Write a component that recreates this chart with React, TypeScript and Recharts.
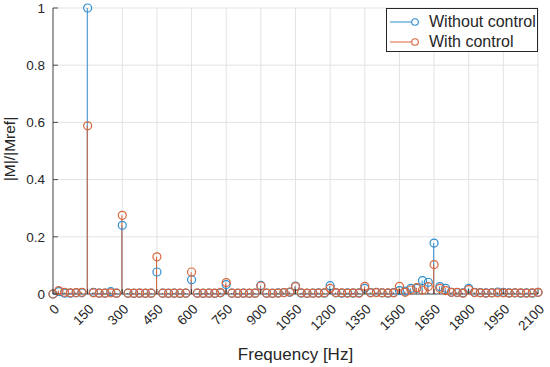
import React from 'react';
import { ComposedChart, Bar, Line, XAxis, YAxis, CartesianGrid, Legend } from 'recharts';

const BLUE = '#2E8ED0';
const ORANGE = '#D9653A';
const AXIS = '#262626';
const GRID = '#E3E3E3';

const frequencies = [
  0, 25, 50, 75, 100, 125, 150, 175, 200, 225, 250, 275, 300, 325, 350, 375, 400, 425,
  450, 475, 500, 525, 550, 575, 600, 625, 650, 675, 700, 725, 750, 775, 800, 825, 850, 875,
  900, 925, 950, 975, 1000, 1025, 1050, 1075, 1100, 1125, 1150, 1175, 1200, 1225, 1250, 1275,
  1300, 1325, 1350, 1375, 1400, 1425, 1450, 1475, 1500, 1525, 1550, 1575, 1600, 1625, 1650,
  1675, 1700, 1725, 1750, 1775, 1800, 1825, 1850, 1875, 1900, 1925, 1950, 1975, 2000, 2025,
  2050, 2075, 2100,
];

const withoutControl = [
  0, 0.008, 0.003, 0.003, 0.004, 0.004, 1.0, 0.006, 0.003, 0.003, 0.008, 0.003, 0.24, 0.003,
  0.002, 0.003, 0.002, 0.003, 0.077, 0.003, 0.002, 0.003, 0.002, 0.003, 0.05, 0.003, 0.002,
  0.003, 0.002, 0.004, 0.033, 0.003, 0.002, 0.003, 0.002, 0.003, 0.03, 0.003, 0.002, 0.004,
  0.005, 0.006, 0.028, 0.003, 0.002, 0.003, 0.004, 0.003, 0.029, 0.004, 0.003, 0.004, 0.003,
  0.004, 0.02, 0.005, 0.006, 0.004, 0.003, 0.005, 0.012, 0.01, 0.02, 0.02, 0.047, 0.041,
  0.178, 0.026, 0.02, 0.006, 0.005, 0.004, 0.02, 0.006, 0.005, 0.004, 0.004, 0.007, 0.006,
  0.004, 0.004, 0.003, 0.004, 0.003, 0.006,
];

const withControl = [
  0, 0.012, 0.006, 0.004, 0.005, 0.006, 0.588, 0.004, 0.003, 0.003, 0.004, 0.003, 0.275,
  0.003, 0.003, 0.003, 0.003, 0.003, 0.13, 0.003, 0.003, 0.003, 0.003, 0.003, 0.077, 0.003,
  0.003, 0.003, 0.003, 0.005, 0.04, 0.003, 0.003, 0.003, 0.003, 0.003, 0.028, 0.003, 0.003,
  0.003, 0.005, 0.007, 0.026, 0.004, 0.003, 0.003, 0.003, 0.004, 0.02, 0.005, 0.004, 0.003,
  0.004, 0.003, 0.027, 0.004, 0.005, 0.004, 0.004, 0.004, 0.027, 0.006, 0.014, 0.022, 0.014,
  0.026, 0.103, 0.02, 0.012, 0.006, 0.006, 0.003, 0.015, 0.005, 0.004, 0.003, 0.004, 0.004,
  0.004, 0.003, 0.004, 0.004, 0.003, 0.004, 0.006,
];

const xTicks = [0, 150, 300, 450, 600, 750, 900, 1050, 1200, 1350, 1500, 1650, 1800, 1950, 2100];
const yTicks = [0, 0.2, 0.4, 0.6, 0.8, 1];
const seriesNames = ['Without control', 'With control'];
const seriesColors = [BLUE, ORANGE];
const xTitle = 'Frequency [Hz]';
const yTitle = '|M|/|Mref|';

const data = frequencies.map((f, i) => ({ f, without: withoutControl[i], with: withControl[i] }));

const BottomTick = ({ x, y, payload }: any) => {
  const ax = x + 7;
  const ay = y + 16;
  return (
    <g>
      <line x1={x} x2={x} y1={y} y2={y - 5} stroke={AXIS} strokeWidth={0.8} />
      <text x={ax} y={ay} textAnchor="end" fontSize={13.5} fill={AXIS} transform={`rotate(-45, ${ax}, ${ay})`}>
        {payload.value}
      </text>
    </g>
  );
};

const TopTick = ({ x, y }: any) => (
  <line x1={x} x2={x} y1={y} y2={y + 5} stroke={AXIS} strokeWidth={0.8} />
);

const LeftTick = ({ x, y, payload }: any) => (
  <g>
    <line x1={x} x2={x + 5} y1={y} y2={y} stroke={AXIS} strokeWidth={0.8} />
    <text x={x - 8} y={y} dy="0.36em" textAnchor="end" fontSize={13.5} fill={AXIS}>
      {String(payload.value)}
    </text>
  </g>
);

const RightTick = ({ x, y }: any) => (
  <line x1={x} x2={x - 5} y1={y} y2={y} stroke={AXIS} strokeWidth={0.8} />
);

const YLabel = ({ viewBox }: any) => {
  const cx = viewBox.x + 15;
  const cy = viewBox.y + viewBox.height / 2 - 2;
  return (
    <text x={cx} y={cy} textAnchor="middle" fontSize={15.5} fill={AXIS} transform={`rotate(-90, ${cx}, ${cy})`}>
      {yTitle}
    </text>
  );
};

const LegendBox = () => (
  <div
    style={{
      width: 152,
      height: 44,
      boxSizing: 'border-box',
      border: `1px solid ${AXIS}`,
      background: '#fff',
      position: 'relative',
    }}
  >
    {seriesNames.map((name, i) => (
      <div
        key={name}
        style={{ position: 'absolute', left: 0, top: 3 + i * 20, height: 20, display: 'flex', alignItems: 'center' }}
      >
        <svg width={40} height={20} style={{ display: 'block' }}>
          <line x1={3} x2={28} y1={10} y2={10} stroke={seriesColors[i]} strokeWidth={1} />
          <circle cx={28} cy={10} r={3.3} stroke={seriesColors[i]} strokeWidth={1.1} fill="#fff" />
        </svg>
        <span style={{ marginLeft: 2, fontSize: 16, color: AXIS, whiteSpace: 'nowrap', lineHeight: '20px' }}>{name}</span>
      </div>
    ))}
  </div>
);

export default function App() {
  return (
    <div style={{ position: 'absolute', left: 0, top: 0, width: 550, height: 367, background: '#fff', fontFamily: '"Liberation Sans", Arial, sans-serif' }}>
      <ComposedChart width={550} height={367} data={data} margin={{ top: 8, right: 12, left: 0, bottom: 0 }}>
        <CartesianGrid xAxisId="bottom" yAxisId="left" stroke={GRID} strokeWidth={1} vertical horizontal />
        <XAxis
          xAxisId="bottom"
          dataKey="f"
          type="number"
          domain={[0, 2100]}
          ticks={xTicks}
          interval={0}
          height={73}
          tickSize={0}
          tickMargin={0}
          tickLine={false}
          axisLine={{ stroke: AXIS, strokeWidth: 0.8 }}
          tick={<BottomTick />}
          label={{ value: xTitle, position: 'insideBottom', offset: 7, fill: AXIS, fontSize: 17 }}
        />
        <XAxis
          xAxisId="top"
          orientation="top"
          dataKey="f"
          type="number"
          domain={[0, 2100]}
          ticks={xTicks}
          interval={0}
          height={0}
          tickSize={0}
          tickMargin={0}
          tickLine={false}
          axisLine={{ stroke: AXIS, strokeWidth: 0.8 }}
          tick={<TopTick />}
        />
        <YAxis
          yAxisId="left"
          type="number"
          domain={[0, 1]}
          ticks={yTicks}
          interval={0}
          width={53}
          tickSize={0}
          tickMargin={0}
          tickLine={false}
          axisLine={{ stroke: AXIS, strokeWidth: 0.8 }}
          tick={<LeftTick />}
          label={<YLabel />}
        />
        <YAxis
          yAxisId="right"
          orientation="right"
          type="number"
          domain={[0, 1]}
          ticks={yTicks}
          interval={0}
          width={0}
          tickSize={0}
          tickMargin={0}
          tickLine={false}
          axisLine={{ stroke: AXIS, strokeWidth: 0.8 }}
          tick={<RightTick />}
        />
        <Bar dataKey="without" name={seriesNames[0]} xAxisId="bottom" yAxisId="left" barSize={1} fill={BLUE} isAnimationActive={false} />
        <Line
          dataKey="without"
          name={seriesNames[0]}
          xAxisId="bottom"
          yAxisId="left"
          stroke="none"
          dot={{ r: 4, stroke: BLUE, strokeWidth: 1.2, fill: 'none' }}
          activeDot={false}
          isAnimationActive={false}
        />
        <Bar dataKey="with" name={seriesNames[1]} xAxisId="top" yAxisId="left" barSize={1} fill={ORANGE} isAnimationActive={false} />
        <Line
          dataKey="with"
          name={seriesNames[1]}
          xAxisId="top"
          yAxisId="left"
          stroke="none"
          dot={{ r: 4, stroke: ORANGE, strokeWidth: 1.2, fill: 'none' }}
          activeDot={false}
          isAnimationActive={false}
        />
        <Legend
          layout="horizontal"
          verticalAlign="middle"
          align="center"
          content={<LegendBox />}
          wrapperStyle={{ position: 'absolute', left: 386, top: 8, width: 152, height: 44 }}
        />
      </ComposedChart>
    </div>
  );
}
